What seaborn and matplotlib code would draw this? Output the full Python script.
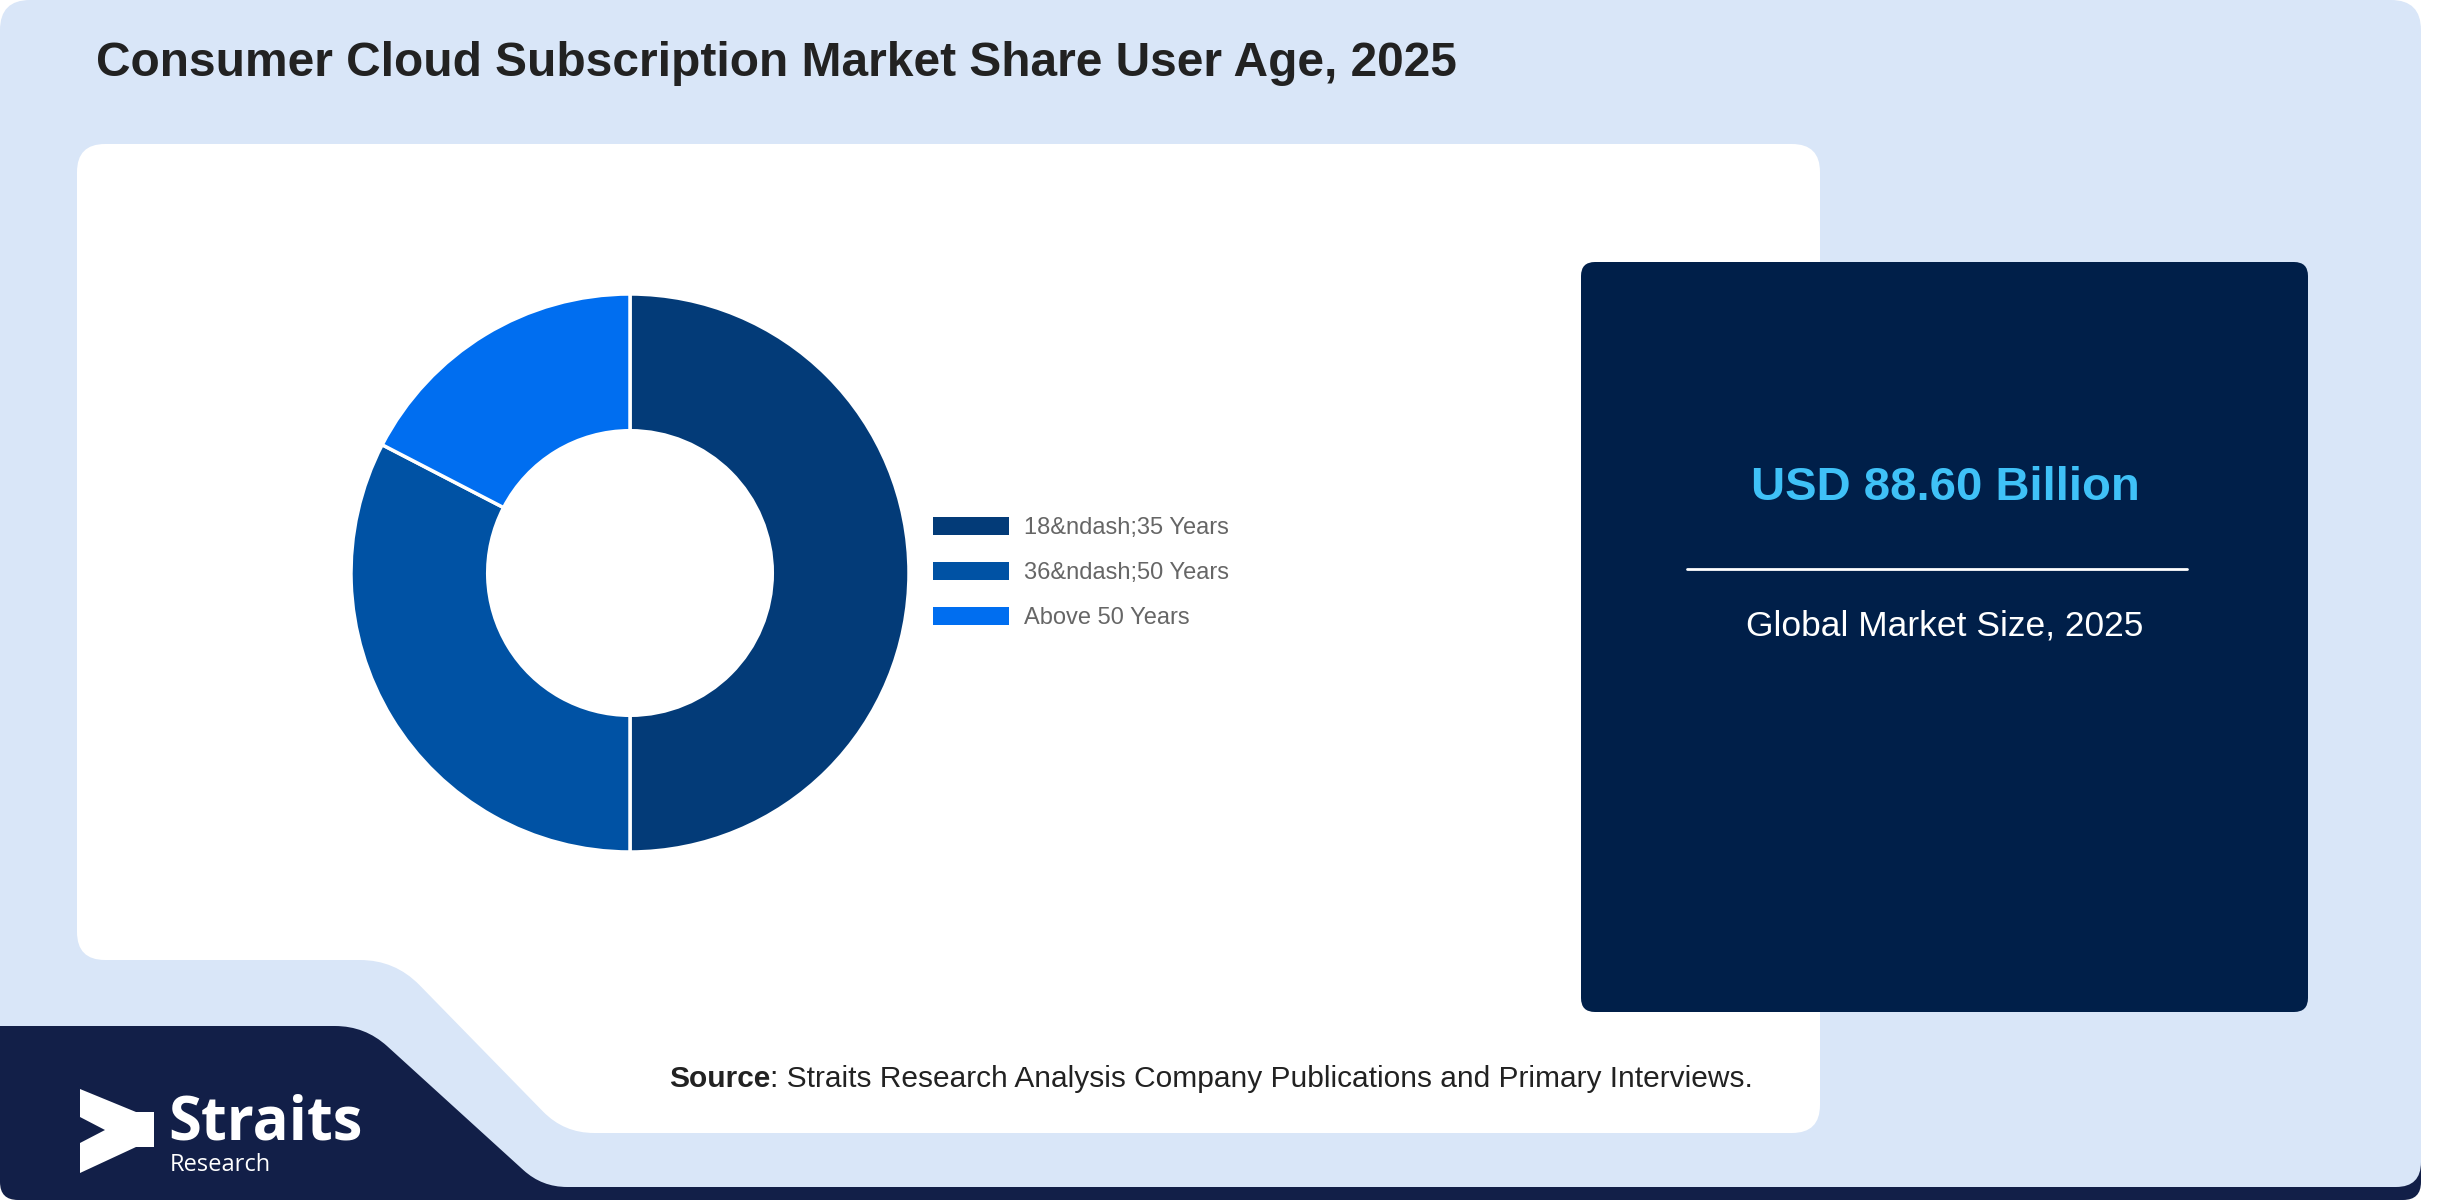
import seaborn as sns
import matplotlib.pyplot as plt
import numpy as np
from matplotlib.path import Path
from matplotlib.patches import PathPatch, Patch, Polygon

# Chart data
segments = ["18&ndash;35 Years", "36&ndash;50 Years", "Above 50 Years"]
shares = [50.0, 32.6, 17.4]
seg_colors = ["#033b78", "#0052a4", "#006ef0"]
market_value = "USD 88.60 Billion"
market_label = "Global Market Size, 2025"
title = "Consumer Cloud Subscription Market Share User Age, 2025"
source = ": Straits Research Analysis Company Publications and Primary Interviews."

sns.set_theme(style="white")
plt.rcParams['font.family'] = ['Liberation Sans', 'DejaVu Sans']

W, H = 2452, 1200


def rounded_path(pts, radii):
    # polygon with quadratic-bezier rounded corners
    verts, codes = [], []
    n = len(pts)
    for i in range(n):
        p = np.array(pts[i], float)
        prev = np.array(pts[i - 1], float)
        nxt = np.array(pts[(i + 1) % n], float)
        r = radii[i]
        d1 = (prev - p) / np.linalg.norm(prev - p)
        d2 = (nxt - p) / np.linalg.norm(nxt - p)
        verts.append(p + d1 * r)
        codes.append(Path.MOVETO if i == 0 else Path.LINETO)
        verts += [p, p + d2 * r]
        codes += [Path.CURVE3, Path.CURVE3]
    verts.append(verts[0])
    codes.append(Path.CLOSEPOLY)
    return Path(verts, codes)


fig = plt.figure(figsize=(W / 100, H / 100), dpi=100)
fig.patch.set_facecolor("white")
bg = fig.add_axes([0, 0, 1, 1])
bg.set_xlim(0, W)
bg.set_ylim(H, 0)
bg.axis("off")

# background shapes
bg.add_patch(PathPatch(rounded_path([(0, 1000), (2421, 1000), (2421, 1200), (0, 1200)],
                                    [0, 0, 18, 18]), fc="#121f48", ec="none"))
bg.add_patch(PathPatch(rounded_path([(0, 0), (2421, 0), (2421, 1187), (542, 1187), (365, 1026), (0, 1026)],
                                    [30, 30, 25, 25, 30, 0]), fc="#d9e6f8", ec="none"))
bg.add_patch(PathPatch(rounded_path([(77, 144), (1820, 144), (1820, 1133), (564, 1133), (395, 960), (77, 960)],
                                    [28, 28, 28, 30, 35, 28]), fc="white", ec="none"))
bg.add_patch(PathPatch(rounded_path([(1581, 262), (2308, 262), (2308, 1012), (1581, 1012)],
                                    [14, 14, 14, 14]), fc="#001f49", ec="none"))

# title
bg.text(96, 76, title, fontsize=34.5, fontweight="bold", color="#222222", va="baseline", ha="left")

# right panel
bg.text(1945, 500, market_value, fontsize=34, fontweight="bold", color="#3fc1f7", ha="center", va="baseline")
bg.plot([1687, 2187], [569, 569], color="white", lw=2)
bg.text(1945, 636, market_label, fontsize=25.5, color="white", ha="center", va="baseline")

# source line
t1 = bg.text(669, 1087, "Source", fontsize=21.5, fontweight="bold", color="#222222", va="baseline", ha="left")
bg.annotate(source, xy=(1, 0), xycoords=t1, fontsize=21.5, color="#222222", va="bottom", ha="left")

# logo
icon = [(80, 1089), (136, 1112), (154, 1112), (154, 1147), (136, 1147), (80, 1173),
        (80, 1143), (105, 1130), (80, 1117)]
bg.add_patch(Polygon(icon, closed=True, fc="white", ec="none"))
bg.text(168, 1139, "Straits", fontsize=43, fontweight="bold", color="white",
        family=["Open Sans", "DejaVu Sans"], va="baseline", ha="left")
bg.text(170, 1153, "Research", fontsize=17, color="white",
        family=["Open Sans", "DejaVu Sans"], va="top", ha="left")

# donut
cx, cy, r = 630, 573, 279
ax = fig.add_axes([(cx - r) / W, (H - cy - r) / H, 2 * r / W, 2 * r / H])
ax.pie(shares, colors=seg_colors, startangle=90, counterclock=False, radius=1,
       wedgeprops=dict(width=0.49, edgecolor="white", linewidth=2.5))
ax.set_xlim(-1, 1)
ax.set_ylim(-1, 1)
ax.set_aspect("equal")
ax.axis("off")

handles = [Patch(facecolor=c, edgecolor="none") for c in seg_colors]
leg = ax.legend(handles, segments, loc="center left", bbox_to_anchor=(933 / W, 1 - 573 / H),
                bbox_transform=fig.transFigure, frameon=False, fontsize=17,
                handlelength=3.2, handleheight=0.8, handletextpad=0.65,
                labelspacing=0.95, borderpad=0, borderaxespad=0)
for t in leg.get_texts():
    t.set_color("#666666")

fig.savefig("out.png", dpi=100)
